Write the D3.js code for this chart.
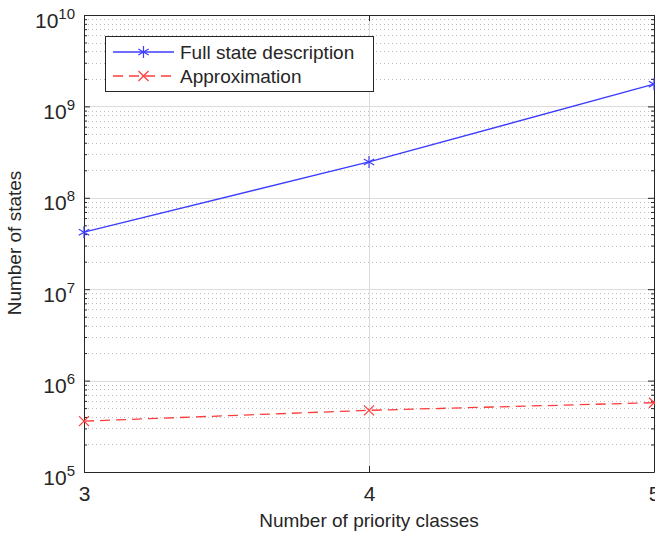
<!DOCTYPE html>
<html>
<head>
<meta charset="utf-8">
<script src="https://cdn.jsdelivr.net/npm/d3@7"></script>
<style>
  body { margin: 0; background: #fff; }
  text { font-family: "Liberation Sans", Arial, Helvetica, sans-serif; fill: #262626; }
</style>
</head>
<body>
<script>
// data
var classes = [3, 4, 5];
var fullStates = [4.2e7, 2.47e8, 1.75e9];
var approxStates = [3.6e5, 4.73e5, 5.73e5];
var seriesNames = ['Full state description', 'Approximation'];
var xTicks = [3, 4, 5];
var yExponents = [5, 6, 7, 8, 9, 10];

var width = 655, height = 533;
// plot box (note: "top" is taken by window, so use plot* names)
var plotLeft = 84, plotRight = 654, plotTop = 15, plotBottom = 472;
var axisColor = '#262626';

var svg = d3.select('body').append('svg')
  .attr('width', width)
  .attr('height', height);

var x = d3.scaleLinear().domain([3, 5]).range([plotLeft, plotRight]);
var y = d3.scaleLog().domain([1e5, 1e10]).range([plotBottom, plotTop]);

var majors = yExponents.map(function(e){ return Math.pow(10, e); });
var minors = [];
for (var e = 5; e < 10; e++) {
  for (var m = 2; m <= 9; m++) minors.push(m * Math.pow(10, e));
}

// grid
var grid = svg.append('g');
grid.selectAll('line.minor').data(minors).enter().append('line')
  .attr('class', 'minor')
  .attr('x1', plotLeft).attr('x2', plotRight)
  .attr('y1', function(d){ return Math.round(y(d)) + 0.5; })
  .attr('y2', function(d){ return Math.round(y(d)) + 0.5; })
  .attr('stroke', '#bdbdbd')
  .attr('stroke-width', 1)
  .attr('stroke-dasharray', '1,3');
grid.selectAll('line.major').data(majors.slice(1, -1)).enter().append('line')
  .attr('class', 'major')
  .attr('x1', plotLeft).attr('x2', plotRight)
  .attr('y1', function(d){ return Math.round(y(d)) + 0.5; })
  .attr('y2', function(d){ return Math.round(y(d)) + 0.5; })
  .attr('stroke', '#dcdcdc')
  .attr('stroke-width', 1);
grid.selectAll('line.vx').data([4]).enter().append('line')
  .attr('class', 'vx')
  .attr('x1', function(d){ return Math.round(x(d)) + 0.5; })
  .attr('x2', function(d){ return Math.round(x(d)) + 0.5; })
  .attr('y1', plotTop).attr('y2', plotBottom)
  .attr('stroke', '#dcdcdc')
  .attr('stroke-width', 1);

// axes
function styleAxis(g){
  g.selectAll('.domain').attr('stroke', axisColor);
  g.selectAll('.tick line').attr('stroke', axisColor);
}

var leftAxis = svg.append('g').attr('transform', 'translate(' + plotLeft + ',0)')
  .call(d3.axisLeft(y).tickValues(majors).tickSizeInner(-6).tickSizeOuter(0).tickPadding(9));
leftAxis.call(styleAxis);
leftAxis.selectAll('.tick text').each(function(d){
  var t = d3.select(this).text(null)
    .attr('dy', null)
    .attr('font-size', 21)
    .attr('fill', axisColor);
  t.append('tspan').attr('dy', 12).text('10');
  t.append('tspan').attr('dy', -9).attr('font-size', 15).text(Math.round(Math.log10(d)));
});
svg.append('g').attr('transform', 'translate(' + plotLeft + ',0)')
  .call(d3.axisLeft(y).tickValues(minors).tickSizeInner(-3).tickSizeOuter(0).tickFormat(''))
  .call(styleAxis).select('.domain').remove();

svg.append('g').attr('transform', 'translate(' + plotRight + ',0)')
  .call(d3.axisRight(y).tickValues(majors).tickSizeInner(-6).tickSizeOuter(0).tickFormat(''))
  .call(styleAxis);
svg.append('g').attr('transform', 'translate(' + plotRight + ',0)')
  .call(d3.axisRight(y).tickValues(minors).tickSizeInner(-3).tickSizeOuter(0).tickFormat(''))
  .call(styleAxis).select('.domain').remove();

var bottomAxis = svg.append('g').attr('transform', 'translate(0,' + plotBottom + ')')
  .call(d3.axisBottom(x).tickValues(xTicks).tickSizeInner(-6).tickSizeOuter(0).tickPadding(14)
    .tickFormat(d3.format('d')));
bottomAxis.call(styleAxis);
bottomAxis.selectAll('.tick text').attr('font-size', 21).attr('fill', axisColor)
  .attr('dy', '0.71em');

svg.append('g').attr('transform', 'translate(0,' + plotTop + ')')
  .call(d3.axisTop(x).tickValues(xTicks).tickSizeInner(-6).tickSizeOuter(0).tickFormat(''))
  .call(styleAxis);

// axis titles
svg.append('text')
  .attr('x', (plotLeft + plotRight) / 2)
  .attr('y', 527)
  .attr('text-anchor', 'middle')
  .attr('font-size', 19)
  .text('Number of priority classes');
svg.append('text')
  .attr('transform', 'translate(21,' + 243 + ') rotate(-90)')
  .attr('text-anchor', 'middle')
  .attr('font-size', 19)
  .text('Number of states');

// series
var fullData = classes.map(function(c, i){ return {x: c, y: fullStates[i]}; });
var approxData = classes.map(function(c, i){ return {x: c, y: approxStates[i]}; });
var line = d3.line().x(function(d){ return x(d.x); }).y(function(d){ return y(d.y); });

var blue = '#3c3cff', red = '#ff3c3c';

svg.append('path').datum(fullData)
  .attr('d', line)
  .attr('fill', 'none')
  .attr('stroke', blue)
  .attr('stroke-width', 1.3);
svg.append('path').datum(approxData)
  .attr('d', line)
  .attr('fill', 'none')
  .attr('stroke', red)
  .attr('stroke-width', 1.3)
  .attr('stroke-dasharray', '10,6');

function star(g, cx, cy, r, color){
  [0, 60, 120].forEach(function(deg){
    var rad = deg * Math.PI / 180 + Math.PI / 2;
    g.append('line')
      .attr('x1', cx - r * Math.cos(rad)).attr('y1', cy - r * Math.sin(rad))
      .attr('x2', cx + r * Math.cos(rad)).attr('y2', cy + r * Math.sin(rad))
      .attr('stroke', color).attr('stroke-width', 1.2);
  });
}
function cross(g, cx, cy, r, color){
  g.append('line').attr('x1', cx - r).attr('y1', cy - r).attr('x2', cx + r).attr('y2', cy + r)
    .attr('stroke', color).attr('stroke-width', 1.2);
  g.append('line').attr('x1', cx - r).attr('y1', cy + r).attr('x2', cx + r).attr('y2', cy - r)
    .attr('stroke', color).attr('stroke-width', 1.2);
}

var marks = svg.append('g');
fullData.forEach(function(d){ star(marks, x(d.x), y(d.y), 6, blue); });
approxData.forEach(function(d){ cross(marks, x(d.x), y(d.y), 5, red); });

// box top line
svg.append('line').attr('x1', plotLeft).attr('x2', plotRight)
  .attr('y1', plotTop + 0.5).attr('y2', plotTop + 0.5)
  .attr('stroke', axisColor);

// legend
var lg = svg.append('g');
lg.append('rect')
  .attr('x', 105.5).attr('y', 36.5)
  .attr('width', 268).attr('height', 55)
  .attr('fill', '#fff')
  .attr('stroke', axisColor)
  .attr('stroke-width', 1);
var legendRows = [
  {name: seriesNames[0], color: blue, dash: null, mark: star, r: 6, y: 52},
  {name: seriesNames[1], color: red, dash: '10,6', mark: cross, r: 5, y: 76}
];
legendRows.forEach(function(r){
  lg.append('line')
    .attr('x1', 113).attr('x2', 174)
    .attr('y1', r.y).attr('y2', r.y)
    .attr('stroke', r.color)
    .attr('stroke-width', 1.3)
    .attr('stroke-dasharray', r.dash);
  r.mark(lg, 143.5, r.y, r.r, r.color);
  lg.append('text')
    .attr('x', 180)
    .attr('y', r.y + 7)
    .attr('font-size', 19)
    .text(r.name);
});
</script>
</body>
</html>
